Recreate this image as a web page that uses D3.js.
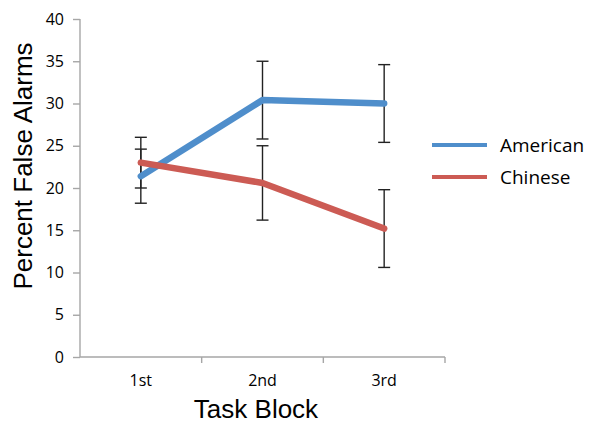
<!DOCTYPE html>
<html>
<head>
<meta charset="utf-8">
<script src="https://cdn.jsdelivr.net/npm/d3@7"></script>
<style>
  html, body { margin: 0; padding: 0; background: #fff; }
  svg { display: block; }
</style>
</head>
<body>
<svg id="chart" width="590" height="423"></svg>
<script>
// Task blocks and mean false-alarm rates (%) with error bar half-widths
const blocks = ["1st", "2nd", "3rd"];
const americanMean = [21.4, 30.4, 30.0];
const americanErr = [3.2, 4.6, 4.6];
const chineseMean = [23.0, 20.6, 15.2];
const chineseErr = [3.0, 4.4, 4.6];
const yTicks = [0, 5, 10, 15, 20, 25, 30, 35, 40];
const seriesNames = ["American", "Chinese"];
const seriesColors = ["#4f8ecb", "#cc5b54"];

const series = [
  { name: seriesNames[0], color: seriesColors[0], mean: americanMean, err: americanErr },
  { name: seriesNames[1], color: seriesColors[1], mean: chineseMean, err: chineseErr }
];

const svg = d3.select("#chart");
const axisColor = "#a6a6a6";
const tickFont = "'Open Sans', sans-serif";
const titleFont = "'Liberation Sans', Arial, sans-serif";

const x = d3.scaleBand().domain(blocks).range([80, 445]);
const y = d3.scaleLinear().domain([0, 40]).range([357, 19]);
const cx = d => x(d) + x.bandwidth() / 2;

// Y axis
const yAxis = svg.append("g")
  .attr("transform", "translate(80,0)")
  .call(d3.axisLeft(y).tickValues(yTicks).tickSize(7).tickPadding(9).tickFormat(d3.format("d")));
yAxis.select(".domain").attr("stroke", axisColor).attr("stroke-width", 1.4).attr("d", `M0,${y(40)}H0V${y(0)}`);
yAxis.selectAll(".tick line").attr("stroke", axisColor).attr("stroke-width", 1.4);
yAxis.selectAll(".tick text").attr("fill", "#000").style("font-family", tickFont).style("font-size", "16px");

// X axis: labels at band centres, tick marks on band boundaries
const xAxis = svg.append("g")
  .attr("transform", `translate(0,${y(0)})`)
  .call(d3.axisBottom(x).tickSize(0).tickPadding(18));
xAxis.select(".domain").attr("stroke", axisColor).attr("stroke-width", 1.4)
  .attr("d", `M${x.range()[0]},0H${x.range()[1]}`);
xAxis.selectAll(".tick text").attr("fill", "#000").style("font-family", tickFont).style("font-size", "16px");
const edges = blocks.slice(1).map(d => x(d)).concat([x.range()[1]]);
xAxis.selectAll(".edge").data(edges).enter().append("line")
  .attr("x1", d => d).attr("x2", d => d).attr("y1", 0).attr("y2", 6)
  .attr("stroke", axisColor).attr("stroke-width", 1.4);

// Error bars
series.forEach(s => {
  const g = svg.append("g").attr("stroke", "#222").attr("stroke-width", 1.4).attr("fill", "none");
  blocks.forEach((b, i) => {
    const lo = y(s.mean[i] - s.err[i]), hi = y(s.mean[i] + s.err[i]), xc = cx(b);
    g.append("line").attr("x1", xc).attr("x2", xc).attr("y1", lo).attr("y2", hi);
    g.append("line").attr("x1", xc - 6).attr("x2", xc + 6).attr("y1", lo).attr("y2", lo);
    g.append("line").attr("x1", xc - 6).attr("x2", xc + 6).attr("y1", hi).attr("y2", hi);
  });
});

// Series lines
const line = d3.line().x((d, i) => cx(blocks[i])).y(d => y(d));
series.forEach(s => {
  svg.append("path").datum(s.mean)
    .attr("d", line)
    .attr("fill", "none")
    .attr("stroke", s.color)
    .attr("stroke-width", 6.5)
    .attr("stroke-linecap", "round")
    .attr("stroke-linejoin", "round");
});

// Legend
const legend = svg.append("g");
series.forEach((s, i) => {
  const ly = 145 + i * 32;
  legend.append("line").attr("x1", 432).attr("x2", 487).attr("y1", ly).attr("y2", ly)
    .attr("stroke", s.color).attr("stroke-width", 4);
  legend.append("text").attr("x", 500).attr("y", ly + 7)
    .style("font-family", tickFont).style("font-size", "19px").attr("fill", "#000")
    .text(s.name);
});

// Axis titles
svg.append("text")
  .attr("transform", `translate(32,166) rotate(-90)`)
  .attr("text-anchor", "middle")
  .style("font-family", titleFont).style("font-size", "26px").attr("fill", "#000")
  .text("Percent False Alarms");
svg.append("text")
  .attr("x", 256).attr("y", 418)
  .attr("text-anchor", "middle")
  .style("font-family", titleFont).style("font-size", "26px").attr("fill", "#000")
  .text("Task Block");
</script>
</body>
</html>
